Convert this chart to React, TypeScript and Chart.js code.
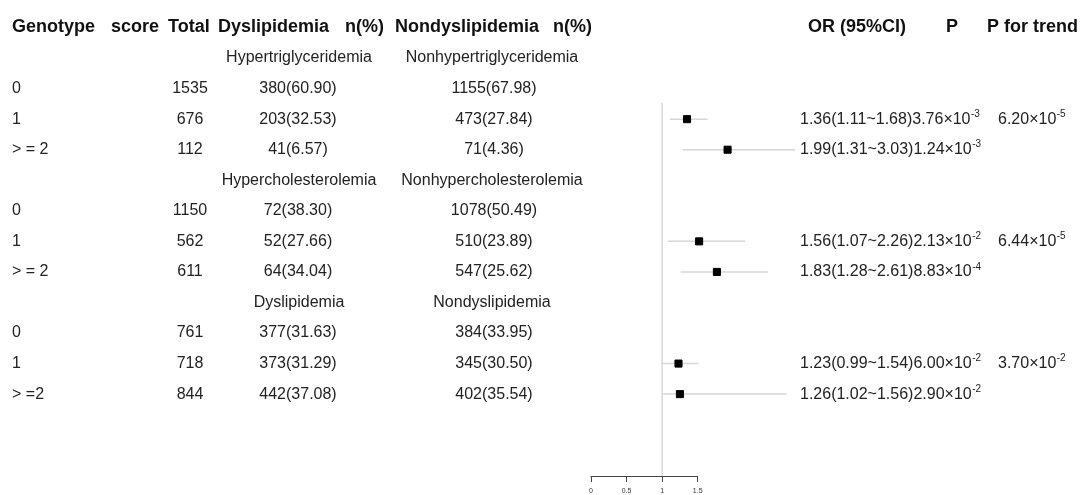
import React, { useEffect, useRef } from 'react';
import { Chart, registerables } from 'chart.js';

Chart.register(...registerables);

// ---------- data ----------
const groupNames = ['Hypertriglyceridemia', 'Hypercholesterolemia', 'Dyslipidemia'];
const controlNames = ['Nonhypertriglyceridemia', 'Nonhypercholesterolemia', 'Nondyslipidemia'];
const scoreLabels = ['0', '1', '> = 2', '0', '1', '> = 2', '0', '1', '> =2'];
const totals = [1535, 676, 112, 1150, 562, 611, 761, 718, 844];
const caseN = [380, 203, 41, 72, 52, 64, 377, 373, 442];
const casePct = [60.9, 32.53, 6.57, 38.3, 27.66, 34.04, 31.63, 31.29, 37.08];
const ctrlN = [1155, 473, 71, 1078, 510, 547, 384, 345, 402];
const ctrlPct = [67.98, 27.84, 4.36, 50.49, 23.89, 25.62, 33.95, 30.5, 35.54];

const orValues = [1.36, 1.99, 1.56, 1.83, 1.23, 1.26];
const ciLow = [1.11, 1.31, 1.07, 1.28, 0.99, 1.02];
const ciHigh = [1.68, 3.03, 2.26, 2.61, 1.54, 1.56];
const pMantissa = ['3.76', '1.24', '2.13', '8.83', '6.00', '2.90'];
const pExponent = ['-3', '-3', '-2', '-4', '-2', '-2'];
const trendMantissa = ['6.20', '6.44', '3.70'];
const trendExponent = ['-5', '-5', '-2'];

// marks as drawn in the figure
const plotOR = [1.35, 1.92, 1.52, 1.77, 1.23, 1.25];
const plotLow = [1.11, 1.29, 1.08, 1.26, 0.99, 1.0];
const plotHigh = [1.64, 2.87, 2.17, 2.49, 1.51, 2.75];
const xTicks = [0, 0.5, 1, 1.5];

// ---------- layout helpers ----------
const tableRow = (i: number) => 2 + 4 * Math.floor(i / 3) + (i % 3);
const forestRow = (j: number) => 2 + 4 * Math.floor(j / 2) + 1 + (j % 2);
const REF_TOP = 2.47;
const Y_MIN = -0.9;
const Y_MAX = 14.68;
const X_MAX = 3.2;
const X_LEFT = 591;
const X_UNIT = 71.13;

const FONT = "'Liberation Sans', Arial, Helvetica, sans-serif";
const HEAD = `bold 18px ${FONT}`;
const BODY = `16px ${FONT}`;
const SUP = `10px ${FONT}`;

const axisLinePlugin = {
  id: 'axisLine',
  afterDraw(chart: any) {
    const ctx = chart.ctx as CanvasRenderingContext2D;
    const xs = chart.scales.x;
    const y = chart.chartArea.bottom + 0.5;
    ctx.save();
    ctx.strokeStyle = '#444';
    ctx.lineWidth = 1;
    ctx.beginPath();
    ctx.moveTo(xs.getPixelForValue(xTicks[0]) - 0.5, y);
    ctx.lineTo(xs.getPixelForValue(xTicks[xTicks.length - 1]) + 0.5, y);
    ctx.stroke();
    ctx.restore();
  },
};

const tablePlugin = {
  id: 'tableText',
  afterDraw(chart: any) {
    const ctx = chart.ctx as CanvasRenderingContext2D;
    const ys = chart.scales.y;
    const yp = (r: number) => ys.getPixelForValue(r);
    ctx.save();
    ctx.textBaseline = 'middle';
    // header
    ctx.font = HEAD;
    ctx.fillStyle = '#111';
    ctx.textAlign = 'left';
    const hy = yp(0);
    ctx.fillText('Genotype', 12, hy);
    ctx.fillText('score', 111, hy);
    ctx.fillText('Total', 168, hy);
    ctx.fillText('Dyslipidemia', 218, hy);
    ctx.fillText('n(%)', 345, hy);
    ctx.fillText('Nondyslipidemia', 395, hy);
    ctx.fillText('n(%)', 553, hy);
    ctx.fillText('OR (95%CI)', 808, hy);
    ctx.fillText('P', 946, hy);
    ctx.fillText('P for trend', 987, hy);

    ctx.font = BODY;
    ctx.fillStyle = '#222';
    groupNames.forEach((g, gi) => {
      const y = yp(1 + 4 * gi);
      ctx.textAlign = 'center';
      ctx.fillText(g, 299, y);
      ctx.fillText(controlNames[gi], 492, y);
    });
    totals.forEach((t, i) => {
      const y = yp(tableRow(i));
      ctx.textAlign = 'left';
      ctx.fillText(scoreLabels[i], 12, y);
      ctx.textAlign = 'center';
      ctx.fillText(String(t), 190, y);
      ctx.fillText(`${caseN[i]}(${casePct[i].toFixed(2)})`, 298, y);
      ctx.fillText(`${ctrlN[i]}(${ctrlPct[i].toFixed(2)})`, 494, y);
    });

    const power = (x: number, y: number, m: string, e: string) => {
      ctx.font = BODY;
      const base = `${m}×10`;
      ctx.fillText(base, x, y);
      const w = ctx.measureText(base).width;
      ctx.font = SUP;
      ctx.fillText(e, x + w + 0.5, y - 5);
      ctx.font = BODY;
    };
    ctx.textAlign = 'left';
    orValues.forEach((v, j) => {
      const y = yp(forestRow(j));
      const s = `${v.toFixed(2)}(${ciLow[j].toFixed(2)}~${ciHigh[j].toFixed(2)})`;
      ctx.font = BODY;
      ctx.fillText(s, 800, y);
      const w = ctx.measureText(s).width;
      power(800 + w, y, pMantissa[j], pExponent[j]);
      if (j % 2 === 0) {
        power(998, y, trendMantissa[j / 2], trendExponent[j / 2]);
      }
    });
    ctx.restore();
  },
};

export default function App() {
  const ref = useRef<HTMLCanvasElement | null>(null);
  useEffect(() => {
    if (!ref.current) return;
    const datasets: any[] = [];
    datasets.push({
      label: 'OR',
      data: plotOR.map((v, j) => ({ x: v, y: forestRow(j) })),
      pointStyle: 'rect',
      pointRadius: 5,
      pointHoverRadius: 5,
      pointBackgroundColor: '#000',
      pointBorderColor: '#000',
      pointBorderWidth: 1,
      showLine: false,
      clip: false,
      order: 0,
    });
    plotOR.forEach((_, j) => {
      datasets.push({
        label: 'CI',
        data: [
          { x: plotLow[j], y: forestRow(j) },
          { x: plotHigh[j], y: forestRow(j) },
        ],
        showLine: true,
        borderColor: '#d6d6d6',
        borderWidth: 1.5,
        pointRadius: 0,
        clip: false,
        order: 1,
      });
    });
    datasets.push({
      label: 'ref',
      data: [
        { x: 1, y: REF_TOP },
        { x: 1, y: Y_MAX },
      ],
      showLine: true,
      borderColor: '#d9d9d9',
      borderWidth: 1.5,
      pointRadius: 0,
      clip: false,
      order: 2,
    });

    const chart = new Chart(ref.current, {
      type: 'scatter',
      data: { datasets },
      options: {
        animation: false,
        responsive: false,
        maintainAspectRatio: false,
        layout: {
          autoPadding: false,
          padding: { left: X_LEFT, right: 1080 - (X_LEFT + X_UNIT * X_MAX), top: 0, bottom: 0 },
        },
        plugins: { legend: { display: false }, tooltip: { enabled: false } },
        scales: {
          x: {
            type: 'linear',
            min: 0,
            max: X_MAX,
            afterBuildTicks: (s: any) => {
              s.ticks = xTicks.map((v) => ({ value: v }));
            },
            afterFit: (s: any) => {
              s.height = 19;
            },
            grid: { drawOnChartArea: false, drawTicks: true, tickLength: 6, color: '#444', lineWidth: 1 },
            border: { display: false },
            ticks: {
              autoSkip: false,
              maxRotation: 0,
              padding: 5,
              color: '#333',
              font: { size: 7, family: FONT },
              callback: (v: any) => String(v),
            },
          },
          y: { type: 'linear', display: false, reverse: true, min: Y_MIN, max: Y_MAX },
        },
      },
      plugins: [axisLinePlugin, tablePlugin],
    });
    return () => chart.destroy();
  }, []);
  return (
    <div style={{ position: 'fixed', left: 0, top: 0, width: 1080, height: 495, background: '#fff' }}>
      <canvas ref={ref} width={1080} height={495} style={{ width: 1080, height: 495, display: 'block' }} />
    </div>
  );
}
